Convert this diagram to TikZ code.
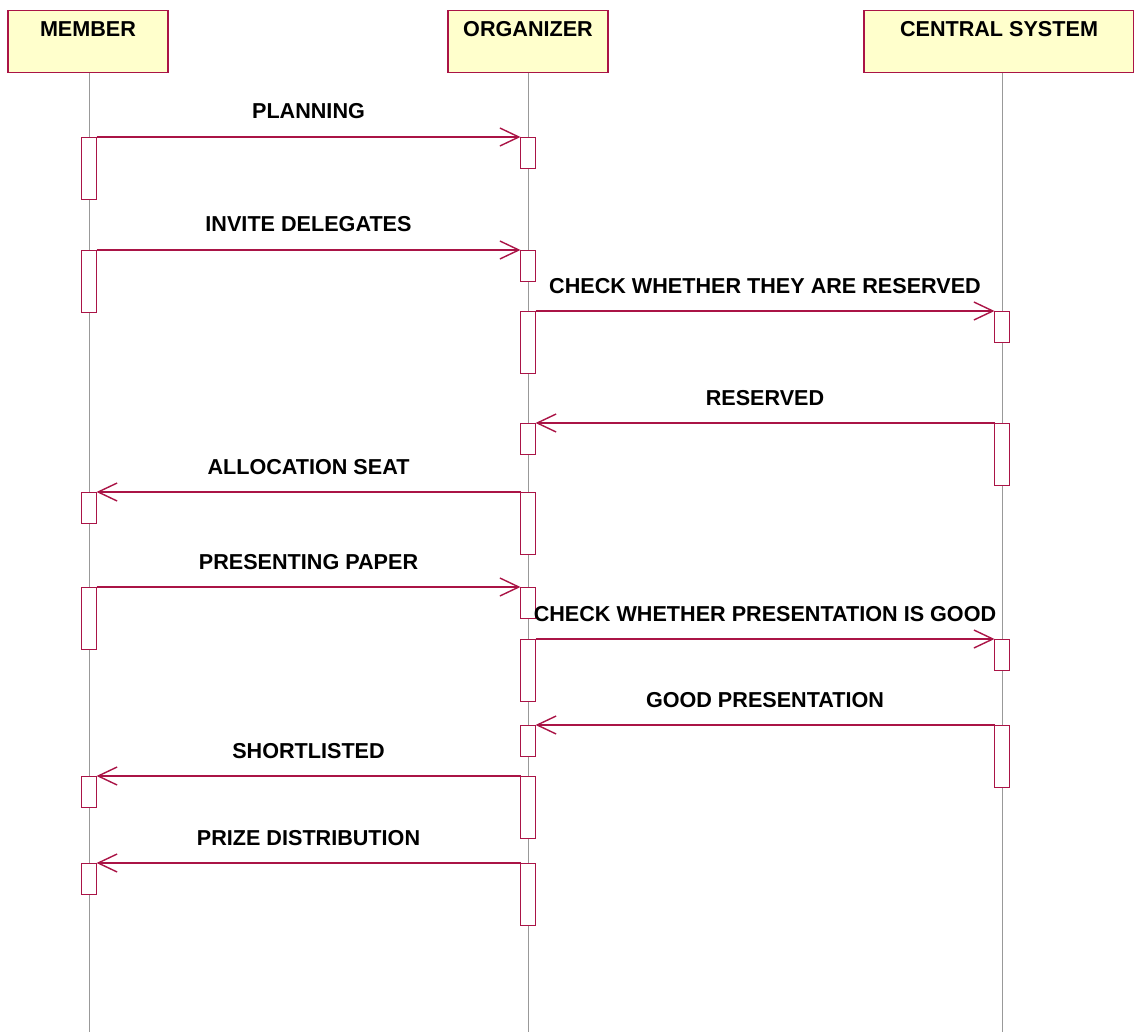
\documentclass[tikz,border=0pt]{standalone}
\usepackage{fontspec}
\setmainfont{Liberation Sans}
\usetikzlibrary{arrows.meta}
\definecolor{umlred}{RGB}{170,20,70}
\definecolor{umlfill}{RGB}{255,255,204}

\begin{document}
\begin{tikzpicture}[
  x=0.5pt, y=-0.5pt,
  font=\fontsize{10.8}{12}\selectfont\bfseries,
  actor/.style={rectangle, draw=umlred, fill=umlfill, line width=0.6pt, anchor=north, inner ysep=0pt, text height=13pt, text depth=18pt},
  bar/.style={rectangle, draw=umlred, fill=white, line width=0.6pt, anchor=north, inner sep=0pt, minimum width=7.5pt},
  life/.style={draw=black!40, line width=0.5pt},
  msg/.style={-{Straight Barb[length=9.5pt,width=9pt]}, draw=umlred, line width=0.7pt, shorten <=3.75pt, shorten >=3.75pt}
]
\useasboundingbox (0,0) rectangle (1134,1032);
\node[actor, minimum width=80pt] (member) at (88,10) {MEMBER};
\node[actor, minimum width=80pt] (organizer) at (528,10) {ORGANIZER};
\node[actor, minimum width=135pt] (central) at (999,10) {CENTRAL SYSTEM};
\coordinate (mend) at (89,1032);
\coordinate (oend) at (528,1032);
\coordinate (cend) at (1002,1032);
\draw[life] (member.south -| mend) -- (mend);
\draw[life] (organizer.south -| oend) -- (oend);
\draw[life] (central.south -| cend) -- (cend);
\foreach \i/\xs/\xd/\y/\txt in {1/89/528/137/PLANNING, 2/89/528/250/INVITE DELEGATES, 3/528/1002/311/CHECK WHETHER THEY ARE RESERVED, 4/1002/528/423/RESERVED, 5/528/89/492/ALLOCATION SEAT, 6/89/528/587/PRESENTING PAPER, 7/528/1002/639/CHECK WHETHER PRESENTATION IS GOOD, 8/1002/528/725/GOOD PRESENTATION, 9/528/89/776/SHORTLISTED, 10/528/89/863/PRIZE DISTRIBUTION} {
  \node[bar, minimum height=31pt] (s\i) at (\xs,\y) {};
  \node[bar, minimum height=15.5pt] (d\i) at (\xd,\y) {};
  \draw[msg] (s\i.north) -- (d\i.north) node[midway, anchor=base, yshift=9pt] {\txt};
}
\end{tikzpicture}
\end{document}
